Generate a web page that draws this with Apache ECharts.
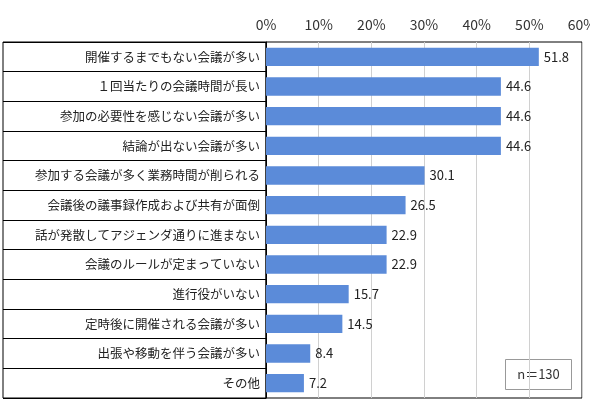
<!DOCTYPE html>
<html><head><meta charset="utf-8">
<script src="https://cdn.jsdelivr.net/npm/echarts@6/dist/echarts.min.js"></script>
<style>body{margin:0;background:#fff}#main{width:590px;height:414px}</style>
</head><body><div id="main"></div>
<script>
// 項目と割合(%)
var categories = ['開催するまでもない会議が多い','１回当たりの会議時間が長い','参加の必要性を感じない会議が多い','結論が出ない会議が多い','参加する会議が多く業務時間が削られる','会議後の議事録作成および共有が面倒','話が発散してアジェンダ通りに進まない','会議のルールが定まっていない','進行役がいない','定時後に開催される会議が多い','出張や移動を伴う会議が多い','その他'];
var values = [51.8,44.6,44.6,44.6,30.1,26.5,22.9,22.9,15.7,14.5,8.4,7.2];
var xTicks = [0,10,20,30,40,50,60];

var font = '"Noto Sans CJK JP", sans-serif';
var myChart = echarts.init(document.getElementById('main'));
var option = {
    animation:false,
    textStyle:{fontFamily:font},
    grid:[
        {left:266,right:8,top:42,bottom:16,show:true,borderColor:'#000',borderWidth:1,outerBoundsMode:'none',containLabel:false},
        {left:3,width:263,top:42,bottom:16,show:true,borderColor:'#000',borderWidth:1,outerBoundsMode:'none',containLabel:false}
    ],
    xAxis:[{
        type:'value', position:'top', min:xTicks[0], max:xTicks[xTicks.length-1], interval:10,
        axisLine:{show:false}, axisTick:{show:false},
        axisLabel:{formatter:'{value}%', color:'#333', fontSize:14, margin:10},
        splitLine:{lineStyle:{color:'#d0d0d0'}}
    },{
        gridIndex:1, type:'value', show:false, min:0, max:1
    }],
    yAxis:[{
        type:'category', inverse:true, data:categories,
        axisLine:{lineStyle:{color:'#000'}},
        axisTick:{show:false},
        axisLabel:{color:'#222', fontSize:12.5, margin:6}
    },{
        gridIndex:1, type:'category', inverse:true, data:categories,
        axisLine:{show:false}, axisTick:{show:false}, axisLabel:{show:false},
        splitLine:{show:true, lineStyle:{color:'#000'}}
    }],
    series:[{
        type:'bar', data:values, barWidth:'62%',
        itemStyle:{color:'#5B8BD9'},
        label:{show:true, position:'right', color:'#222', fontSize:13, formatter:function(p){return p.value.toFixed(1);}}
    }],
    graphic:[
        {type:'group', right:18, bottom:24, children:[
            {type:'rect', shape:{width:66, height:30}, style:{fill:'#fff', stroke:'#999', lineWidth:1}},
            {type:'text', x:33, y:15, style:{text:'n＝130', fill:'#333', font:'13px '+font, align:'center', verticalAlign:'middle'}}
        ]}
    ]
};
myChart.setOption(option);
</script></body></html>
